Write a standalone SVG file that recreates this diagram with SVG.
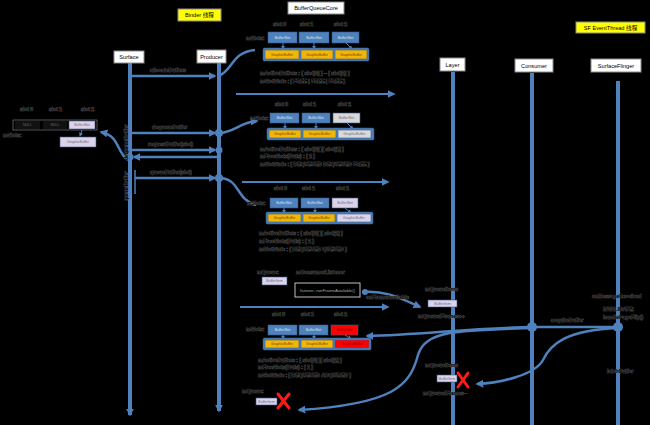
<svg xmlns="http://www.w3.org/2000/svg" width="650" height="425" viewBox="0 0 650 425">
<style>
.bg{fill:#000}
.ll{stroke:#4f81bd;stroke-width:4;fill:none}
.msg{stroke:#4f81bd;stroke-width:2.5;fill:none}
.thin{stroke:#4f81bd;stroke-width:2;fill:none}
.hdr{fill:#fff;stroke:#8c8c8c;stroke-width:1}
.yel{fill:#ffff00;stroke:#8c8c8c;stroke-width:1}
.hdrt{font-family:"Liberation Sans","Noto Sans CJK SC",sans-serif;font-size:5.6px;fill:#000;text-anchor:middle}
.t{font-family:"Liberation Sans",sans-serif;font-size:5px;font-weight:bold;fill:#000;stroke:#6e6e6e;stroke-width:.55;paint-order:stroke}
.cell{stroke:#385d8a;stroke-width:.6}
.bs{fill:#4f81bd}
.gb{fill:#f2b705}
.free{fill:#d9d9d9}
.lav{fill:#dcd3ea}
.red{fill:#ff0000}
.ct{font-family:"Liberation Sans",sans-serif;font-size:3.6px;text-anchor:middle}
.bst{fill:#dce6f2}
.gbt{fill:#7a3d00}
.gt{fill:#6b6b7a}
.rt{fill:#7a0000}
.cont{fill:#4f81bd;stroke:#385d8a;stroke-width:.6}
.dot{fill:#4f81bd}
.x{stroke:#ff1a1a;stroke-width:3;fill:none;stroke-linecap:round}
</style>
<defs>
<marker id="ah" viewBox="0 0 10 10" refX="8" refY="5" markerWidth="8" markerHeight="8" markerUnits="userSpaceOnUse" orient="auto-start-reverse"><path d="M0,0 L10,5 L0,10 z" fill="#4f81bd"/></marker>
<marker id="as" viewBox="0 0 10 10" refX="8" refY="5" markerWidth="4" markerHeight="4" markerUnits="userSpaceOnUse" orient="auto"><path d="M0,0 L10,5 L0,10 z" fill="#4f81bd"/></marker>
</defs>
<rect class="bg" x="0" y="0" width="650" height="425"/>

<g id="binder-thread"><rect class="yel" x="178" y="9" width="43" height="12"/><text class="hdrt" x="199.5" y="17">Binder 线程</text></g>
<g id="sf-eventthread"><rect class="yel" x="576" y="22" width="69" height="11"/><text class="hdrt" x="610.5" y="29.8">SF EventThread 线程</text></g>
<g id="bufferqueuecore"><rect class="hdr" x="288" y="2" width="56" height="12"/><text class="hdrt" x="316" y="10">BufferQueueCore</text></g>

<g id="connectors">
<line class="ll" x1="130" y1="63" x2="130" y2="415" marker-end="url(#ah)"/>
<line class="ll" x1="219" y1="63" x2="219" y2="411" marker-end="url(#ah)"/>
<line class="ll" x1="453" y1="72" x2="453" y2="425"/>
<line class="ll" x1="532" y1="73" x2="532" y2="425"/>
<line class="ll" x1="618" y1="81" x2="618" y2="425"/>

<line class="msg" x1="132" y1="76" x2="215" y2="76" marker-end="url(#ah)"/>
<line class="msg" x1="132" y1="133" x2="215" y2="133" marker-end="url(#ah)"/>
<line class="msg" x1="132" y1="150" x2="215" y2="150" marker-end="url(#ah)"/>
<line class="msg" x1="217" y1="157" x2="134" y2="157" marker-end="url(#ah)"/>
<line class="msg" x1="135" y1="178" x2="215" y2="178" marker-end="url(#ah)"/>
<line x1="135" y1="170" x2="135" y2="194" stroke="#4f81bd" stroke-width="1.5"/>

<line class="thin" x1="236" y1="94" x2="394" y2="94" marker-end="url(#ah)"/>
<line class="thin" x1="242" y1="182" x2="388" y2="182" marker-end="url(#ah)"/>
<line class="thin" x1="240" y1="307" x2="388" y2="307" marker-end="url(#ah)"/>

<path class="msg" d="M219,76 C233,70 232,52 255,50"/>
<path class="msg" d="M219,133 C234,133 240,122 257,121" marker-end="url(#ah)"/>
<path class="msg" d="M219,178 C240,178 236,200 256,205"/>
<path class="msg" d="M128,160 C116,152 120,136 101,132" marker-end="url(#ah)"/>

<path class="msg" d="M362,292 C385,290 400,298 420,307" marker-end="url(#ah)"/>
<line class="msg" x1="618" y1="327" x2="536" y2="327"/>
<path class="msg" d="M532,327 C470,328 420,335 367,336" marker-end="url(#ah)"/>
<path class="msg" d="M532,328 C460,330 425,330 418,355 C410,385 395,404 299,410" marker-end="url(#ah)"/>
<path class="msg" d="M618,328 C565,330 550,345 543,360 C535,375 500,383 477,384" marker-end="url(#ah)"/>

<circle class="dot" cx="219" cy="133" r="4"/>
<circle class="dot" cx="219" cy="150" r="3.5"/>
<circle class="dot" cx="219" cy="178" r="4"/>
<circle class="dot" cx="130" cy="157" r="3.5"/>
<circle class="dot" cx="532" cy="327" r="5"/>
<circle class="dot" cx="618" cy="327" r="5"/>
<circle class="dot" cx="365" cy="292" r="3"/>

<text class="t" x="150" y="72">allocateBuffers</text>
<text class="t" x="152" y="129">dequeueBuffer</text>
<text class="t" x="148" y="146">requestBuffer(slot)</text>
<text class="t" x="150" y="174">queueBuffer(slot)</text>
<text class="t" x="366" y="299">onFrameAvailable</text>
<text class="t" x="551" y="322">acquireBuffer</text>
<text class="t" transform="translate(128,160) rotate(-90)">dequeueBuffer</text>
<text class="t" transform="translate(128,201) rotate(-90)">queueBuffer</text>
</g>

<g id="surface"><rect class="hdr" x="114" y="51" width="30" height="12"/><text class="hdrt" x="129" y="59">Surface</text></g>
<g id="producer"><rect class="hdr" x="197" y="50" width="29" height="13"/><text class="hdrt" x="211.5" y="58.5">Producer</text></g>
<g id="layer"><rect class="hdr" x="440" y="58" width="25" height="13"/><text class="hdrt" x="452.5" y="66.5">Layer</text></g>
<g id="consumer"><rect class="hdr" x="515" y="59" width="38" height="13"/><text class="hdrt" x="534" y="67.5">Consumer</text></g>
<g id="surfaceflinger"><rect class="hdr" x="591" y="59" width="50" height="13"/><text class="hdrt" x="616" y="67.5">SurfaceFlinger</text></g>

<g id="surface-slots">
<text class="t" x="20" y="111">slot 0</text><text class="t" x="49" y="111">slot 1</text><text class="t" x="81" y="111">slot 2</text>
<rect x="13" y="120" width="84" height="10" fill="none" stroke="#8c8c8c" stroke-width=".6"/>
<rect x="15" y="121" width="25" height="8" fill="#111"/><text class="ct gt" x="27.5" y="126.3">NULL</text>
<rect x="43" y="121" width="24" height="8" fill="#111"/><text class="ct gt" x="55" y="126.3">NULL</text>
<rect class="cell lav" x="69" y="121" width="26" height="8"/><text class="ct gt" x="82" y="126.3">BufferSlot</text>
<line x1="82" y1="130" x2="80" y2="136" stroke="#4f81bd" stroke-width="1" marker-end="url(#as)"/>
<rect class="cell lav" x="60" y="137" width="36" height="10" stroke="#8c8c8c"/><text class="ct gt" x="78" y="143.3">GraphicBuffer</text>
<text class="t" x="3" y="137">mSlots:</text>
</g>

<g id="bq-state-1">
<text class="t" x="273" y="26">slot 0</text><text class="t" x="300" y="26">slot 1</text><text class="t" x="334" y="26">slot 2</text>
<text class="t" x="246" y="40">mSlots:</text>
<rect class="cell bs" x="268" y="32" width="29" height="11"/><text class="ct bst" x="282.5" y="38.8">BufferSlot</text>
<rect class="cell bs" x="299" y="32" width="30" height="11"/><text class="ct bst" x="314" y="38.8">BufferSlot</text>
<rect class="cell bs" x="332" y="32" width="27" height="11"/><text class="ct bst" x="345.5" y="38.8">BufferSlot</text>
<line x1="283" y1="43" x2="283" y2="49" stroke="#4f81bd" stroke-width="1" marker-end="url(#as)"/>
<line x1="314" y1="43" x2="314" y2="49" stroke="#4f81bd" stroke-width="1" marker-end="url(#as)"/>
<line x1="346" y1="43" x2="352" y2="49" stroke="#4f81bd" stroke-width="1" marker-end="url(#as)"/>
<rect class="cont" x="263" y="48" width="106" height="13" rx="1.5"/>
<rect class="cell gb" x="265" y="50" width="34" height="9"/><text class="ct gbt" x="282" y="55.8">GraphicBuffer</text>
<rect class="cell gb" x="301" y="50" width="32" height="9"/><text class="ct gbt" x="317" y="55.8">GraphicBuffer</text>
<rect class="cell gb" x="335" y="50" width="32" height="9"/><text class="ct gbt" x="351" y="55.8">GraphicBuffer</text>
<text class="t" x="260" y="75">mActiveBuffers : [ slot[0] ]  ~  [ slot[2] ]</text>
<text class="t" x="260" y="83">mSlotState  : [ FREE  |  FREE  |  FREE ]</text>
</g>

<g id="bq-state-2">
<text class="t" x="275" y="106">slot 0</text><text class="t" x="303" y="106">slot 1</text><text class="t" x="338" y="106">slot 2</text>
<text class="t" x="250" y="120">mSlots:</text>
<rect class="cell bs" x="270" y="113" width="29" height="10"/><text class="ct bst" x="284.5" y="119.3">BufferSlot</text>
<rect class="cell bs" x="302" y="113" width="28" height="10"/><text class="ct bst" x="316" y="119.3">BufferSlot</text>
<rect class="cell free" x="333" y="113" width="27" height="10" stroke="#8c8c8c" stroke-width=".6"/><text class="ct gt" x="346.5" y="119.3">BufferSlot</text>
<line x1="285" y1="123" x2="285" y2="129" stroke="#4f81bd" stroke-width="1" marker-end="url(#as)"/>
<line x1="316" y1="123" x2="316" y2="129" stroke="#4f81bd" stroke-width="1" marker-end="url(#as)"/>
<line x1="347" y1="123" x2="353" y2="129" stroke="#4f81bd" stroke-width="1" marker-end="url(#as)"/>
<rect class="cont" x="267" y="128" width="107" height="12" rx="1.5"/>
<rect class="cell gb" x="269" y="130" width="32" height="8"/><text class="ct gbt" x="285" y="135.3">GraphicBuffer</text>
<rect class="cell gb" x="303" y="130" width="33" height="8"/><text class="ct gbt" x="319.5" y="135.3">GraphicBuffer</text>
<rect class="cell free" x="338" y="130" width="33" height="8" stroke="#8c8c8c" stroke-width=".6"/><text class="ct gt" x="354.5" y="135.3">GraphicBuffer</text>
<text class="t" x="260" y="151">mActiveBuffers : [ slot[0] ][ slot[1] ]</text>
<text class="t" x="260" y="158">mFreeSlots(Bufs) : [ 2 ]</text>
<text class="t" x="260" y="166">mSlotState  : [ DEQUEUED   DEQUEUED   FREE ]</text>
</g>

<g id="bq-state-3">
<text class="t" x="274" y="190">slot 0</text><text class="t" x="302" y="190">slot 1</text><text class="t" x="336" y="190">slot 2</text>
<text class="t" x="247" y="205">mSlots:</text>
<rect class="cell bs" x="270" y="198" width="28" height="10"/><text class="ct bst" x="284" y="204.3">BufferSlot</text>
<rect class="cell bs" x="301" y="198" width="28" height="10"/><text class="ct bst" x="315" y="204.3">BufferSlot</text>
<rect class="cell lav" x="332" y="198" width="26" height="10" stroke="#8c8c8c" stroke-width=".6"/><text class="ct gt" x="345" y="204.3">BufferSlot</text>
<line x1="284" y1="208" x2="284" y2="213" stroke="#4f81bd" stroke-width="1" marker-end="url(#as)"/>
<line x1="315" y1="208" x2="315" y2="213" stroke="#4f81bd" stroke-width="1" marker-end="url(#as)"/>
<line x1="345" y1="208" x2="351" y2="213" stroke="#4f81bd" stroke-width="1" marker-end="url(#as)"/>
<rect class="cont" x="266" y="212" width="107" height="12" rx="1.5"/>
<rect class="cell gb" x="268" y="214" width="33" height="8"/><text class="ct gbt" x="284.5" y="219.3">GraphicBuffer</text>
<rect class="cell gb" x="303" y="214" width="32" height="8"/><text class="ct gbt" x="319" y="219.3">GraphicBuffer</text>
<rect class="cell lav" x="337" y="214" width="34" height="8" stroke="#8c8c8c" stroke-width=".6"/><text class="ct gt" x="354" y="219.3">GraphicBuffer</text>
<text class="t" x="259" y="235">mActiveBuffers : [ slot[0] ][ slot[2] ]</text>
<text class="t" x="259" y="243">mFreeSlots(Bufs) : [ 1 ]</text>
<text class="t" x="259" y="251">mSlotState  : [ DEQUEUED   QUEUED   ]</text>
</g>

<g id="bq-queue">
<text class="t" x="257" y="274">mQueue:</text>
<rect class="cell lav" x="262" y="277" width="25" height="8" stroke="#8c8c8c"/><text class="ct gt" x="274.5" y="282.3">BufferItem</text>
<text class="t" x="296" y="274">mConsumerListener</text>
<rect x="295" y="283" width="65" height="14" fill="#000" stroke="#bfbfbf" stroke-width="1"/>
<text x="327.5" y="291.8" font-family="Liberation Sans,sans-serif" font-size="4.3" fill="#a6a6a6" text-anchor="middle">listener-&gt;onFrameAvailable()</text>
</g>

<g id="bq-state-4">
<text class="t" x="272" y="316">slot 0</text><text class="t" x="301" y="316">slot 1</text><text class="t" x="334" y="316">slot 2</text>
<text class="t" x="246" y="331">mSlots:</text>
<rect class="cell bs" x="268" y="325" width="29" height="10"/><text class="ct bst" x="282.5" y="331.3">BufferSlot</text>
<rect class="cell bs" x="299" y="325" width="29" height="10"/><text class="ct bst" x="313.5" y="331.3">BufferSlot</text>
<rect class="cell red" x="331" y="325" width="27" height="10" stroke="#8c8c8c" stroke-width=".6"/><text class="ct rt" x="344.5" y="331.3">BufferSlot</text>
<line x1="283" y1="335" x2="283" y2="339" stroke="#4f81bd" stroke-width="1" marker-end="url(#as)"/>
<line x1="314" y1="335" x2="314" y2="339" stroke="#4f81bd" stroke-width="1" marker-end="url(#as)"/>
<line x1="345" y1="335" x2="351" y2="339" stroke="#4f81bd" stroke-width="1" marker-end="url(#as)"/>
<rect class="cont" x="263" y="338" width="108" height="12" rx="1.5"/>
<rect class="cell gb" x="265" y="340" width="34" height="8"/><text class="ct gbt" x="282" y="345.3">GraphicBuffer</text>
<rect class="cell gb" x="301" y="340" width="32" height="8"/><text class="ct gbt" x="317" y="345.3">GraphicBuffer</text>
<rect class="cell red" x="335" y="340" width="34" height="8" stroke="#8c8c8c" stroke-width=".6"/><text class="ct rt" x="352" y="345.3">GraphicBuffer</text>
<text class="t" x="258" y="362">mActiveBuffers : [ slot[0] ][ slot[2] ]</text>
<text class="t" x="258" y="369">mFreeSlots(Bufs) : [ 1 ]</text>
<text class="t" x="258" y="377">mSlotState  : [ DEQUEUED   ACQUIRED ]</text>
<text class="t" x="242" y="393">mQueue:</text>
<rect class="cell lav" x="256" y="398" width="21" height="7" stroke="#8c8c8c"/><text class="ct gt" x="266.5" y="402.8">BufferItem</text>
<path class="x" d="M278,394 L289,408 M289,394 L278,408"/>
</g>

<g id="layer-queue">
<text class="t" x="425" y="291">mQueueItems</text>
<rect class="cell lav" x="428" y="300" width="29" height="7" stroke="#8c8c8c"/><text class="ct gt" x="442.5" y="304.8">BufferItem</text>
<text class="t" x="418" y="318">mQueuedFrames++</text>
<text class="t" x="425" y="367">mQueueItems</text>
<rect class="cell lav" x="437" y="375" width="20" height="7" stroke="#8c8c8c"/><text class="ct gt" x="447" y="379.8">BufferItem</text>
<path class="x" d="M458,373 L468,387 M468,373 L458,387"/>
<text class="t" x="423" y="395">mQueuedFrames--</text>
</g>

<g id="sf-notes">
<text class="t" x="592" y="298">onMessageReceived</text>
<text class="t" x="603" y="311">INVALIDATE:</text>
<text class="t" x="603" y="319">handlePageFlip()</text>
<text class="t" x="607" y="373">latchBuffer</text>
</g>
</svg>
